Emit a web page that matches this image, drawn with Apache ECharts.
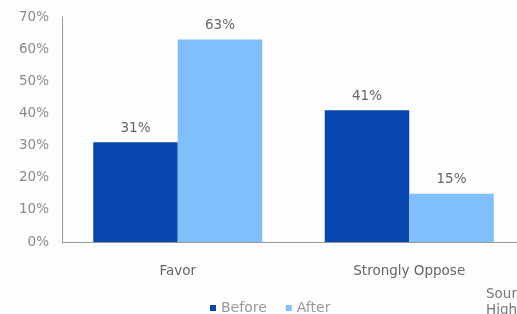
<!DOCTYPE html>
<html><head><meta charset="utf-8">
<script src="https://cdn.jsdelivr.net/npm/echarts@6/dist/echarts.min.js"></script>
<style>html,body{margin:0;padding:0;background:#fdfdfd}#c{width:517px;height:314px}</style>
</head><body><div id="c"></div>
<script>
const categories = ["Favor", "Strongly Oppose"];
const before = [31, 41];
const after = [63, 15];
const yTicks = [0, 10, 20, 30, 40, 50, 60, 70];

const chart = echarts.init(document.getElementById('c'), null, {renderer: 'canvas'});
const font = 'DejaVu Sans, Verdana, sans-serif';
const lbl = {show: true, position: 'top', formatter: '{c}%', color: '#666', fontSize: 13.5, fontFamily: font, distance: 7};
chart.setOption({
  backgroundColor: '#fdfdfd',
  animation: false,
  grid: {left: 62, top: 17, width: 463, height: 225, containLabel: false, outerBoundsMode: 'none'},
  legend: {
    top: 296, left: 205, itemWidth: 6, itemHeight: 6, itemGap: 19, icon: 'rect',
    textStyle: {color: '#999', fontSize: 14, fontFamily: font},
    data: ['Before', 'After']
  },
  xAxis: {
    type: 'category', data: categories,
    axisLine: {lineStyle: {color: '#999'}}, axisTick: {show: false},
    axisLabel: {color: '#666', fontSize: 13.5, fontFamily: font, margin: 22}
  },
  yAxis: {
    type: 'value', min: 0, max: 70, interval: 10,
    axisLine: {show: true, lineStyle: {color: '#999'}}, axisTick: {show: false},
    splitLine: {show: false},
    axisLabel: {color: '#8a8a8a', fontSize: 13.5, fontFamily: font, margin: 13,
      formatter: v => yTicks.includes(v) ? v + '%' : ''}
  },
  series: [
    {name: 'Before', type: 'bar', data: before, barGap: '0%', barCategoryGap: '27%',
     itemStyle: {color: '#0747ad'}, label: lbl},
    {name: 'After', type: 'bar', data: after,
     itemStyle: {color: '#80bffb'}, label: lbl}
  ],
  graphic: [{type: 'text', left: 486, top: 286,
    style: {text: 'Source:\nHighline', fill: '#777', fontSize: 13.5, fontFamily: font, lineHeight: 16}}]
});
</script></body></html>
